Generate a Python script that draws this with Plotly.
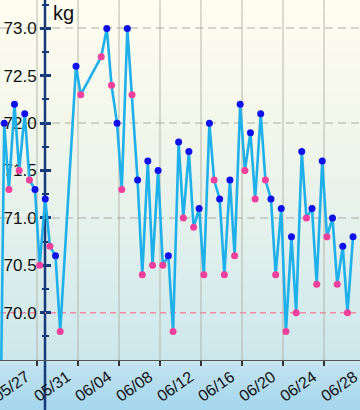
import datetime as dt
import plotly.graph_objects as go

# ---------------- data ----------------
YEAR = 2023
DAYS = ["05/27", "05/28", "05/29", "05/30", "05/31", "06/01", "06/02", "06/03",
        "06/04", "06/05", "06/06", "06/07", "06/08", "06/09", "06/10", "06/11",
        "06/12", "06/13", "06/14", "06/15", "06/16", "06/17", "06/18", "06/19",
        "06/20", "06/21", "06/22", "06/23", "06/24", "06/25", "06/26", "06/27",
        "06/28", "06/29", "06/30"]
MORNING = [67.2, 71.3, 71.5, 71.4, 70.5, 70.7, 69.8, None,
           72.3, None, 72.7, 72.4, 71.3, 72.3, 70.4, 70.5,
           70.5, 69.8, 71.0, 70.9, 70.4, 71.4, 70.4, 70.6,
           71.5, 71.2, 71.4, 70.4, 69.8, 70.0, 71.0, 70.3,
           70.8, 70.3, 70.0]
EVENING = [72.0, 72.2, 72.1, 71.3, 71.2, 70.6, None, 72.6,
           None, None, 73.0, 72.0, 73.0, 71.4, 71.6, 71.5,
           70.6, 71.8, 71.7, 71.1, 72.0, 71.2, 71.4, 72.2,
           71.9, 72.1, 71.2, 71.1, 70.8, 71.7, 71.1, 71.6,
           71.0, 70.7, 70.8]
MORNING_TIME = "07:00"
EVENING_TIME = "20:00"
TARGET = 70.0
Y_RANGE = [69.5, 73.3]
Y_TICKS = [70.0, 70.5, 71.0, 71.5, 72.0, 72.5, 73.0]
Y_MINOR_TICKS = [69.75, 70.25, 70.75, 71.25, 71.75, 72.25, 72.75, 73.25]
GRID_VALUES = [71.0, 72.0, 73.0]
X_TICK_LABELS = ["05/27", "05/31", "06/04", "06/08", "06/12", "06/16", "06/20", "06/24", "06/28"]
X_RANGE = ["2023-05-27 10:09", "2023-07-01 12:18"]
UNIT = "kg"

# ---------------- style ----------------
W, H = 360, 410
MB = 50
LINE_C = "#1fb0ea"
PINK = "#f0409c"
BLUE = "#1010e8"
NAVY = "#173a78"
FONT = "Liberation Sans, Arial, Helvetica, sans-serif"
AXIS_POS = 45 / W


def iso(md, t=None):
    s = f"{YEAR}-{md.replace('/', '-')}"
    return s if t is None else f"{s} {t}"


xs, ys, cs = [], [], []
for d, m, e in zip(DAYS, MORNING, EVENING):
    if m is not None:
        xs.append(iso(d, MORNING_TIME)); ys.append(m); cs.append(PINK)
    if e is not None:
        xs.append(iso(d, EVENING_TIME)); ys.append(e); cs.append(BLUE)

fig = go.Figure()
fig.add_trace(go.Scatter(
    x=xs, y=ys, mode="lines+markers",
    line=dict(color=LINE_C, width=2.6),
    marker=dict(color=cs, size=7, line=dict(width=0)),
    hoverinfo="x+y", showlegend=False, cliponaxis=True,
))
# invisible helpers so overlay axes render
for ya in ("y2", "y3"):
    fig.add_trace(go.Scatter(x=[xs[5]], y=[TARGET], yaxis=ya, mode="markers",
                             marker=dict(opacity=0), hoverinfo="skip", showlegend=False))

# ---- background gradient (bands) ----
stops = [(0, (254, 253, 240)), (120, (243, 247, 234)), (240, (226, 240, 236)),
         (359, (204, 231, 236)), (361, (196, 228, 240)), (410, (164, 214, 238))]


def col_at(p):
    for (p0, c0), (p1, c1) in zip(stops[:-1], stops[1:]):
        if p0 <= p <= p1:
            t = (p - p0) / (p1 - p0) if p1 > p0 else 0
            return "rgb(%d,%d,%d)" % tuple(round(a + (b - a) * t) for a, b in zip(c0, c1))
    return "rgb(%d,%d,%d)" % stops[-1][1]


PH = H - MB
shapes = []
step = 5
for top in range(0, H, step):
    shapes.append(dict(type="rect", xref="paper", yref="paper", layer="below",
                       x0=-0.01, x1=1.01, y0=1 - (top + step + 0.5) / PH, y1=1 - top / PH,
                       fillcolor=col_at(top + step / 2), line=dict(width=0)))
# y-axis line extended through the whole height
shapes.append(dict(type="line", xref="paper", yref="paper", layer="below",
                   x0=AXIS_POS, x1=AXIS_POS, y0=-MB / PH, y1=1,
                   line=dict(color=NAVY, width=2.5)))
# target line
shapes.append(dict(type="line", xref="paper", yref="y", layer="below",
                   x0=0, x1=1, y0=TARGET, y1=TARGET,
                   line=dict(color="#f38aaa", width=1.5, dash="6px,4px")))

# ---- x tick labels as rotated annotations ----
t0 = dt.datetime.fromisoformat(X_RANGE[0])
t1 = dt.datetime.fromisoformat(X_RANGE[1])
annotations = []
for lab in X_TICK_LABELS:
    t = dt.datetime.fromisoformat(iso(lab) + " 00:00")
    frac = (t - t0) / (t1 - t0)
    annotations.append(dict(text=lab, xref="paper", yref="paper", x=frac, y=0,
                            xanchor="center", yanchor="middle", xshift=15, yshift=-26,
                            textangle=-35, showarrow=False,
                            font=dict(family=FONT, size=16, color="#111")))
annotations.append(dict(text=UNIT, xref="paper", yref="paper", x=AXIS_POS, y=1,
                        xanchor="left", yanchor="top", xshift=6, yshift=0,
                        showarrow=False, font=dict(family=FONT, size=20, color="#111")))

common_y = dict(range=Y_RANGE, anchor="free", position=AXIS_POS, fixedrange=True,
                zeroline=False, layer="below traces")
minor_out = dict(tickmode="array", tickvals=Y_MINOR_TICKS, ticks="outside", ticklen=3,
                 tickwidth=2, tickcolor=NAVY, showgrid=False)
minor_in = dict(minor_out, ticks="inside")

fig.update_layout(
    width=W, height=H,
    margin=dict(l=0, r=0, t=0, b=MB, pad=0),
    paper_bgcolor="rgb(200,230,238)",
    plot_bgcolor="rgba(0,0,0,0)",
    shapes=shapes, annotations=annotations,
    xaxis=dict(type="date", range=X_RANGE, domain=[0, 1], anchor="y",
               tick0=iso("05/31"), dtick=4 * 86400000,
               ticks="outside", ticklen=5, tickwidth=1.5, tickcolor="#333",
               showticklabels=False, showgrid=True,
               gridcolor="rgba(175,175,165,0.45)", gridwidth=1.5,
               showline=True, linecolor="#555", linewidth=1, zeroline=False),
    yaxis=dict(**common_y, tickmode="array", tickvals=Y_TICKS,
               ticktext=[f"{v:.1f}" for v in Y_TICKS],
               ticks="outside", ticklen=5, tickwidth=2.5, tickcolor=NAVY,
               tickfont=dict(family=FONT, size=17, color="#111"),
               showgrid=False, showline=False, minor=minor_out),
    yaxis2=dict(**common_y, overlaying="y", tickmode="array", tickvals=Y_TICKS,
                ticks="inside", ticklen=5, tickwidth=2.5, tickcolor=NAVY,
                showticklabels=False, showgrid=False, showline=False, minor=minor_in),
    yaxis3=dict(**common_y, overlaying="y", tickmode="array", tickvals=GRID_VALUES,
                ticks="", showticklabels=False, showline=False, showgrid=True,
                gridcolor="rgba(165,165,155,0.45)", gridwidth=1.5, griddash="8px,5px"),
    hovermode=False,
)

fig.write_html("out.html", config={"displayModeBar": False},
               post_script="document.body.style.margin='0';document.body.style.overflow='hidden';")
